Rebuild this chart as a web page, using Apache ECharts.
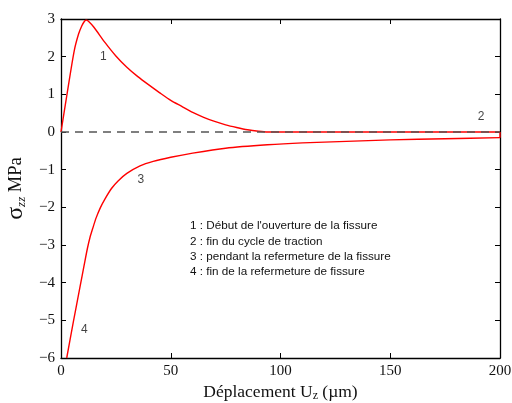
<!DOCTYPE html>
<html><head><meta charset="utf-8">
<script src="https://cdn.jsdelivr.net/npm/echarts@6/dist/echarts.min.js"></script>
<style>html,body{margin:0;padding:0;background:#fff}#c{width:512px;height:403px}</style>
</head><body><div id="c"></div>
<script>
// Curve during loading (opening, then end of traction cycle along 0)
const loadX = [0, 3, 6, 8, 9.5, 10.7, 11.5, 12.5, 15, 20, 25, 30, 35, 40, 45, 50, 55, 60, 65, 70, 75, 80, 85, 90, 94, 200];
const loadY = [0, 1.1, 2.15, 2.6, 2.82, 2.94, 2.97, 2.94, 2.78, 2.38, 2.02, 1.72, 1.47, 1.25, 1.04, 0.84, 0.68, 0.52, 0.39, 0.28, 0.19, 0.12, 0.06, 0.02, 0, 0];
// Drop at the end of the cycle
const dropX = [200, 200];
const dropY = [0, -0.15];
// Curve during re-closing (from end of cycle back to start)
const unloadX = [200, 175, 150, 130, 110, 94, 75, 60, 50, 42, 36, 30, 26, 23, 20, 18, 16, 14.5, 13.2, 12, 10.5, 8.7, 5.6, 2.6];
const unloadY = [-0.15, -0.18, -0.21, -0.25, -0.29, -0.34, -0.43, -0.56, -0.67, -0.78, -0.90, -1.10, -1.30, -1.50, -1.78, -2.0, -2.28, -2.55, -2.8, -3.1, -3.55, -4.1, -5.05, -6.0];
// Reference line
const zeroX = [0, 200];
const zeroY = [0, 0];
// Numbered annotations
const noteLabels = ['1', '2', '3', '4'];
const noteX = [19.3, 191.4, 36.4, 10.6];
const noteY = [2.0, 0.41, -1.27, -5.26];
// Legend text
const legendLines = [
  '1 : Début de l\'ouverture de la fissure',
  '2 : fin du cycle de traction',
  '3 : pendant la refermeture de la fissure',
  '4 : fin de la refermeture de fissure'
];
const xTicks = [0, 50, 100, 150, 200];
const yTicks = [-6, -5, -4, -3, -2, -1, 0, 1, 2, 3];

const zip = (a, b) => a.map((v, i) => [v, b[i]]);
const serif = 'Liberation Serif';
const sans = 'Liberation Sans';
const fmt = v => String(v).replace('-', '\u2212');
const red = {color: '#ff0000', width: 1.4};

const chart = echarts.init(document.getElementById('c'), null, {renderer: 'canvas'});
const axisLine = {show: true, onZero: false, lineStyle: {color: '#000', width: 1.3}};
const axisTick = {show: true, inside: true, length: 5, lineStyle: {color: '#000', width: 1}};
chart.setOption({
  animation: false,
  grid: {left: 61, right: 12, top: 19, bottom: 45, containLabel: false, outerBoundsMode: 'none'},
  xAxis: [
    {type: 'value', min: xTicks[0], max: xTicks[xTicks.length - 1], interval: 50,
     axisLine, axisTick, splitLine: {show: false},
     axisLabel: {margin: 6, color: '#111', fontFamily: serif, fontSize: 15, formatter: fmt},
     name: 'Déplacement U{sub|z} (µm)', nameLocation: 'middle', nameGap: 24, nameMoveOverlap: false,
     nameTextStyle: {fontFamily: serif, fontSize: 17.5, color: '#111',
       rich: {sub: {fontFamily: serif, fontSize: 12, color: '#111', padding: [8, 0, 0, 0]}}}},
    {type: 'value', position: 'top', min: 0, max: 200, interval: 50,
     axisLine, axisTick, axisLabel: {show: false}, splitLine: {show: false}}
  ],
  yAxis: [
    {type: 'value', min: yTicks[0], max: yTicks[yTicks.length - 1], interval: 1,
     axisLine, axisTick, splitLine: {show: false},
     axisLabel: {margin: 6, color: '#111', fontFamily: serif, fontSize: 15, formatter: fmt},
     name: '{sig|σ}{sub|zz} MPa', nameLocation: 'middle', nameGap: 32, nameRotate: 90,
     nameTextStyle: {fontFamily: serif, fontSize: 18.5, color: '#111',
       rich: {sig: {fontFamily: serif, fontSize: 24, color: '#111'},
              sub: {fontFamily: serif, fontStyle: 'italic', fontSize: 13, color: '#111', padding: [10, 0, 0, 0]}}}},
    {type: 'value', position: 'right', min: -6, max: 3, interval: 1,
     axisLine, axisTick, axisLabel: {show: false}, splitLine: {show: false}}
  ],
  series: [
    {type: 'line', data: zip(loadX, loadY), showSymbol: false, symbol: 'none', smooth: 0.25,
     lineStyle: red, clip: true},
    {type: 'line', data: zip(dropX, dropY), showSymbol: false, symbol: 'none', lineStyle: red},
    {type: 'line', data: zip(unloadX, unloadY), showSymbol: false, symbol: 'none', smooth: 0.25,
     lineStyle: red, clip: true},
    {type: 'line', data: zip(zeroX, zeroY), showSymbol: false, symbol: 'none',
     lineStyle: {color: '#555', width: 1.5, type: [8, 6]}, z: 5},
    {type: 'scatter', data: noteLabels.map((t, i) => ({value: [noteX[i], noteY[i]], name: t})),
     symbolSize: 0, silent: true,
     label: {show: true, position: 'inside', formatter: p => p.name,
       fontFamily: sans, fontSize: 12, color: '#111'}}
  ],
  graphic: legendLines.map((t, i) => ({
    type: 'text', left: 190, top: 220 + i * 15.3,
    style: {text: t, fontFamily: sans, fontSize: 11.7, fill: '#111'}
  }))
});
</script></body></html>
